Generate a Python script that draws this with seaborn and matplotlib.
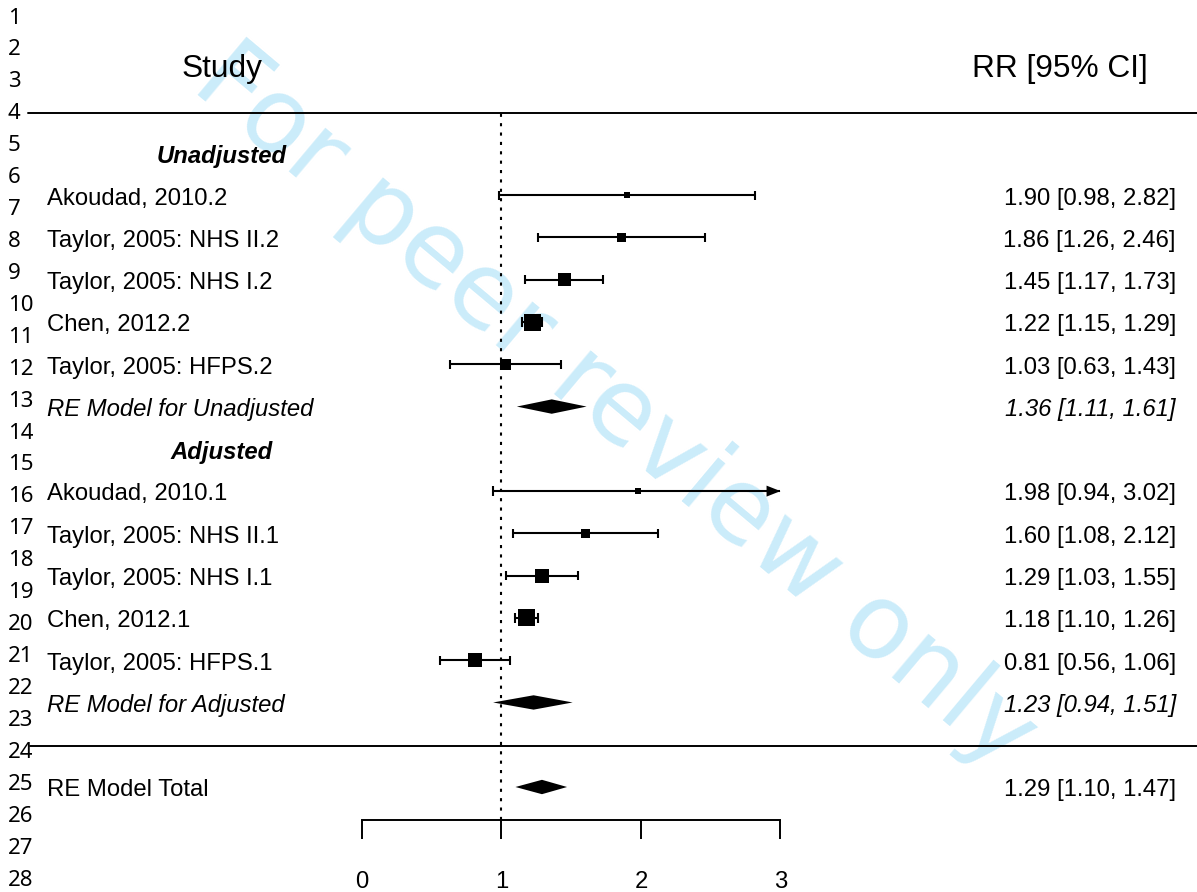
import numpy as np
import pandas as pd
import matplotlib.pyplot as plt
import seaborn as sns

# ── Data (top to bottom within each subgroup) ─────────────────
unadj_labels = ["Akoudad, 2010.2", "Taylor, 2005: NHS II.2", "Taylor, 2005: NHS I.2",
                "Chen, 2012.2", "Taylor, 2005: HFPS.2"]
unadj_rr = [1.90, 1.86, 1.45, 1.22, 1.03]
unadj_lo = [0.98, 1.26, 1.17, 1.15, 0.63]
unadj_hi = [2.82, 2.46, 1.73, 1.29, 1.43]
unadj_box = [6, 9, 13, 17, 11]      # box side in px (study weight)

adj_labels = ["Akoudad, 2010.1", "Taylor, 2005: NHS II.1", "Taylor, 2005: NHS I.1",
              "Chen, 2012.1", "Taylor, 2005: HFPS.1"]
adj_rr = [1.98, 1.60, 1.29, 1.18, 0.81]
adj_lo = [0.94, 1.08, 1.03, 1.10, 0.56]
adj_hi = [3.02, 2.12, 1.55, 1.26, 1.06]
adj_box = [6, 9, 14, 17, 14]

re_labels = ["RE Model for Unadjusted", "RE Model for Adjusted", "RE Model Total"]
re_rr = [1.36, 1.23, 1.29]
re_lo = [1.11, 0.94, 1.10]
re_hi = [1.61, 1.51, 1.47]

x_ticks = [0, 1, 2, 3]

# ── Layout (pixels of the 1197x892 output) ────────────────────
W, H, DPI = 1197, 892, 100
PX_X0, PX_PER_X = 362, 139.5       # x=0 position, px per RR unit
PX_Y0, PX_PER_ROW = 787, 42.27     # row 0 position, px per row
XMAX = 3
TXT_DY = -0.08                     # nudge text so caps sit on the row line


def dx(px):
    return (px - PX_X0) / PX_PER_X


def dy(py):
    return (PX_Y0 - py) / PX_PER_ROW


studies = pd.DataFrame({
    "label": unadj_labels + adj_labels,
    "rr": unadj_rr + adj_rr,
    "lo": unadj_lo + adj_lo,
    "hi": unadj_hi + adj_hi,
    "box": unadj_box + adj_box,
    "row": [14, 13, 12, 11, 10, 7, 6, 5, 4, 3],
})
studies["area"] = (studies["box"] * 72 / DPI) ** 2

pooled = pd.DataFrame({"label": re_labels, "rr": re_rr, "lo": re_lo, "hi": re_hi,
                       "row": [9, 2, 0], "italic": [True, True, False]})

sns.set_theme(style="white")
plt.rcParams["font.family"] = ["Liberation Sans", "DejaVu Sans"]
plt.rcParams["text.color"] = "black"
plt.rcParams["xtick.color"] = "black"
plt.rcParams["xtick.labelcolor"] = "black"

fig = plt.figure(figsize=(W / DPI, H / DPI), dpi=DPI)
ax = fig.add_axes([0, 0, 1, 1])
ax.patch.set_visible(False)

# watermark
ax.text(615 / W, 1 - 408 / H, "For peer review only", transform=fig.transFigure,
        rotation=-40, rotation_mode="anchor", ha="center", va="center",
        fontsize=75, color="#cbecfa", family="DejaVu Sans", zorder=0)

# study boxes
sns.scatterplot(data=studies, x="rr", y="row", size="area", sizes=(0, 1000),
                size_norm=(0, 1000), marker="s", color="black", edgecolor="none",
                linewidth=0, legend=False, ax=ax, zorder=4)

# confidence intervals
lw = 1.5
cap = 0.11
ax.hlines(studies["row"], studies["lo"], np.minimum(studies["hi"], XMAX),
          color="black", lw=lw, zorder=3)
ax.vlines(studies["lo"], studies["row"] - cap, studies["row"] + cap, color="black", lw=lw)
inside = studies[studies["hi"] <= XMAX]
ax.vlines(inside["hi"], inside["row"] - cap, inside["row"] + cap, color="black", lw=lw)
for _, r in studies[studies["hi"] > XMAX].iterrows():
    ax.fill([XMAX - 0.1, XMAX, XMAX - 0.1], [r.row + 0.13, r.row, r.row - 0.13],
            color="black", lw=0, zorder=3)

# pooled diamonds
for _, r in pooled.iterrows():
    ax.fill([r.lo, r.rr, r.hi, r.rr], [r.row, r.row + 0.17, r.row, r.row - 0.17],
            color="black", lw=0, zorder=3)

# reference lines
axis_row = dy(820)
top_row = dy(113)
ax.vlines(1, axis_row, top_row, color="black", lw=1.5, linestyles=(0, (1.5, 3)), zorder=2)
ax.axhline(top_row, xmin=28 / W, xmax=1, color="black", lw=1.4)
ax.axhline(dy(746), xmin=30 / W, xmax=1, color="black", lw=1.4)

# text columns
fs = 17.2
x_left, x_right = dx(47), dx(1176)
for _, r in studies.iterrows():
    ax.text(x_left, r.row + TXT_DY, r.label, ha="left", va="center", fontsize=fs)
    ax.text(x_right, r.row + TXT_DY, f"{r.rr:.2f} [{r.lo:.2f}, {r.hi:.2f}]",
            ha="right", va="center", fontsize=fs)
for _, r in pooled.iterrows():
    style = "italic" if r.italic else "normal"
    ax.text(x_left, r.row + TXT_DY, r.label, ha="left", va="center", fontsize=fs, style=style)
    ax.text(x_right, r.row + TXT_DY, f"{r.rr:.2f} [{r.lo:.2f}, {r.hi:.2f}]",
            ha="right", va="center", fontsize=fs, style=style)

ax.text(dx(222), 15 + TXT_DY, "Unadjusted", ha="center", va="center", fontsize=fs,
        weight="bold", style="italic")
ax.text(dx(222), 8 + TXT_DY, "Adjusted", ha="center", va="center", fontsize=fs,
        weight="bold", style="italic")
ax.text(dx(222), dy(69), "Study", ha="center", va="center", fontsize=22.8)
ax.text(dx(1148), dy(69), "RR [95% CI]", ha="right", va="center", fontsize=22.8)

# x axis
ax.set_xlim(dx(0), dx(W))
ax.set_ylim(dy(H), dy(0))
for s in ["top", "left", "right"]:
    ax.spines[s].set_visible(False)
ax.spines["bottom"].set_position(("data", axis_row))
ax.spines["bottom"].set_bounds(0, XMAX)
ax.spines["bottom"].set_linewidth(1.4)
ax.spines["bottom"].set_color("black")
ax.set_xticks(x_ticks)
ax.set_xticklabels([str(t) for t in x_ticks])
ax.set_yticks([])
ax.tick_params(axis="x", bottom=True, direction="out", length=13.7, width=1.4,
               color="black", pad=23, labelsize=fs)
ax.set_xlabel("")
ax.set_ylabel("")

# page line numbers
for i in range(28):
    y = 18 + i * (880 - 18) / 27
    fig.text(8 / W, 1 - y / H, str(i + 1), ha="left", va="center",
             fontsize=16, family="Noto Sans", color="black")

fig.savefig("out.png", dpi=DPI)
